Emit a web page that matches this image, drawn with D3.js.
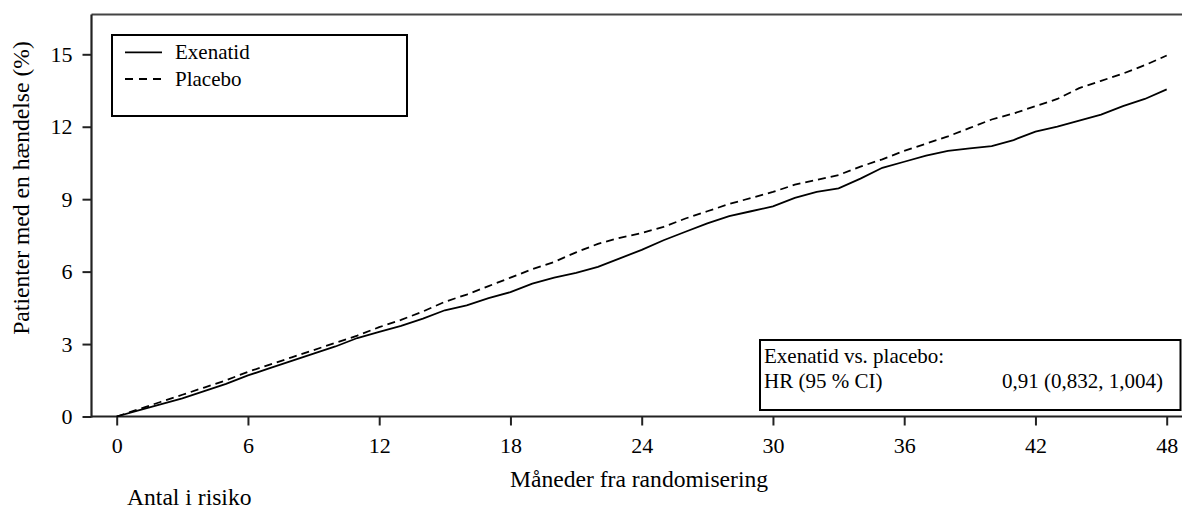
<!DOCTYPE html>
<html><head><meta charset="utf-8">
<script src="https://cdn.jsdelivr.net/npm/d3@7"></script>
<style>body{margin:0;background:#fff}svg{display:block}text{font-family:"Liberation Serif","Times New Roman",serif;fill:#000}</style>
</head><body>
<script>
const months = d3.range(0, 49);
const exenatid = [0,0.25,0.5,0.75,1.05,1.35,1.7,2.0,2.3,2.6,2.9,3.25,3.5,3.75,4.05,4.4,4.6,4.9,5.15,5.5,5.75,5.95,6.2,6.55,6.9,7.3,7.65,8.0,8.3,8.5,8.7,9.05,9.3,9.45,9.85,10.3,10.55,10.8,11.0,11.1,11.2,11.45,11.8,12.0,12.25,12.5,12.85,13.15,13.55];
const placebo = [0,0.3,0.6,0.9,1.2,1.5,1.85,2.15,2.45,2.75,3.05,3.35,3.7,4.0,4.35,4.75,5.05,5.4,5.75,6.1,6.4,6.8,7.15,7.4,7.6,7.85,8.2,8.5,8.8,9.05,9.3,9.6,9.8,10.0,10.35,10.65,11.0,11.3,11.6,11.95,12.3,12.55,12.85,13.15,13.6,13.9,14.2,14.55,14.95];
const xTicks = [0,6,12,18,24,30,36,42,48];
const yTicks = [0,3,6,9,12,15];
const seriesNames = ["Exenatid","Placebo"];
const yLabel = "Patienter med en hændelse (%)";
const xLabel = "Måneder fra randomisering";
const riskLabel = "Antal i risiko";
const hrLines = ["Exenatid vs. placebo:", "HR (95 % CI)", "0,91 (0,832, 1,004)"];

const W = 1182, H = 509;
const svg = d3.select("body").append("svg").attr("width", W).attr("height", H);
const x = d3.scaleLinear().domain([0,48]).range([116.7,1166.7]);
const y = d3.scaleLinear().domain([0,15]).range([416.5,54.3]);
const FS = 21, TFS = 22, LFS = 23.6;

// frame
svg.append("line").attr("x1",91.5).attr("x2",W).attr("y1",14.5).attr("y2",14.5).attr("stroke","#444").attr("stroke-width",2);

const xAxis = svg.append("g").attr("transform","translate(0,416.5)")
  .call(d3.axisBottom(x).tickValues(xTicks).tickSize(9).tickPadding(12).tickSizeOuter(0));
xAxis.select(".domain").remove();
xAxis.append("line").attr("x1",91.5).attr("x2",W).attr("stroke","#222").attr("stroke-width",2.2);
xAxis.selectAll(".tick line").attr("stroke","#222").attr("stroke-width",2);
xAxis.selectAll(".tick text").attr("font-size",TFS).attr("font-family","Liberation Serif").attr("fill","#000");

const yAxis = svg.append("g").attr("transform","translate(91.5,0)")
  .call(d3.axisLeft(y).tickValues(yTicks).tickSize(9).tickPadding(10).tickSizeOuter(0));
yAxis.select(".domain").remove();
yAxis.append("line").attr("y1",14.5).attr("y2",417.5).attr("stroke","#222").attr("stroke-width",2.2);
yAxis.selectAll(".tick line").attr("stroke","#222").attr("stroke-width",2);
yAxis.selectAll(".tick text").attr("font-size",TFS).attr("font-family","Liberation Serif").attr("fill","#000");

// curves
const line = d3.line().x((d,i)=>x(months[i])).y(d=>y(d)).curve(d3.curveLinear);
svg.append("path").datum(exenatid).attr("d",line).attr("fill","none").attr("stroke","#000").attr("stroke-width",1.8);
svg.append("path").datum(placebo).attr("d",line).attr("fill","none").attr("stroke","#000").attr("stroke-width",1.8).attr("stroke-dasharray","8,5");

// legend
const lg = svg.append("g");
lg.append("rect").attr("x",112).attr("y",35).attr("width",295).attr("height",81).attr("fill","none").attr("stroke","#000").attr("stroke-width",2);
const legY = [52.3, 79];
seriesNames.forEach((n,i)=>{
  lg.append("line").attr("x1",125).attr("x2",162).attr("y1",legY[i]).attr("y2",legY[i]).attr("stroke","#000").attr("stroke-width",1.8).attr("stroke-dasharray", i?"8,6":null);
  lg.append("text").attr("x",175).attr("y",legY[i]+6.5).attr("font-size",FS).text(n);
});

// HR box
const hb = svg.append("g");
hb.append("rect").attr("x",760).attr("y",340).attr("width",420.5).attr("height",70).attr("fill","none").attr("stroke","#000").attr("stroke-width",2);
hb.append("text").attr("x",764).attr("y",363).attr("font-size",FS).text(hrLines[0]);
hb.append("text").attr("x",764).attr("y",388).attr("font-size",FS).text(hrLines[1]);
hb.append("text").attr("x",1163).attr("y",388).attr("font-size",FS).attr("text-anchor","end").text(hrLines[2]);

// labels
svg.append("text").attr("x",639).attr("y",487).attr("font-size",LFS).attr("text-anchor","middle").text(xLabel);
svg.append("text").attr("x",127).attr("y",505).attr("font-size",LFS).text(riskLabel);
svg.append("text").attr("transform","translate(29,188) rotate(-90)").attr("font-size",LFS).attr("text-anchor","middle").text(yLabel);
</script>
</body></html>
